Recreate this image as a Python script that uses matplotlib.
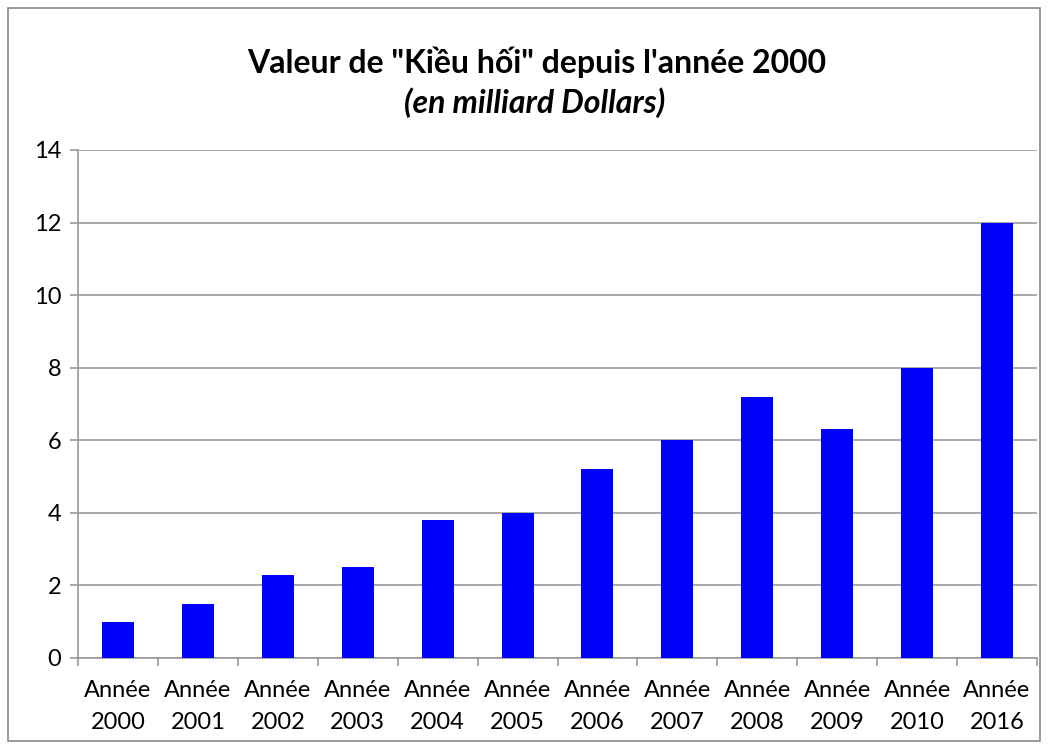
import matplotlib.pyplot as plt
import numpy as np
from matplotlib.patches import Rectangle

plt.rcParams['font.family'] = ['Lato', 'DejaVu Sans']

years = ['2000', '2001', '2002', '2003', '2004', '2005', '2006',
         '2007', '2008', '2009', '2010', '2016']
values = [1.0, 1.5, 2.3, 2.5, 3.8, 4.0, 5.2, 6.0, 7.2, 6.3, 8.0, 12.0]
labels = ['Année\n' + y for y in years]

fig = plt.figure(figsize=(10.49, 7.49), dpi=100)
ax = fig.add_axes([78 / 1049, 1 - 658 / 749, (1037 - 78) / 1049, (658 - 150) / 749])

x = np.arange(len(values))
ax.bar(x, values, width=0.4, color='#0000ff', zorder=3)

ax.set_xlim(-0.5, len(values) - 0.5)
ax.set_ylim(0, 14)
ax.set_yticks(range(0, 15, 2))
ax.yaxis.grid(True, color='#999999', linewidth=1.2, zorder=0)

# category ticks between bars
ax.set_xticks(np.arange(-0.5, len(values), 1.0))
ax.set_xticklabels([])
ax.set_xticks(x, minor=True)
ax.set_xticklabels(labels, minor=True, fontsize=17, linespacing=1.65)
ax.tick_params(axis='x', which='minor', length=0, pad=16)
ax.tick_params(axis='x', which='major', length=6, color='#999999', width=1.2)
ax.tick_params(axis='y', length=6, color='#999999', width=1.2, labelsize=17, pad=6)

for s in ['top', 'right']:
    ax.spines[s].set_visible(False)
for s in ['left', 'bottom']:
    ax.spines[s].set_color('#999999')
    ax.spines[s].set_linewidth(1.2)

fig.text(537 / 1049, 1 - 62 / 749, 'Valeur de "Kiều hối" depuis l\'année 2000',
         ha='center', va='center', fontsize=23, fontweight='bold')
fig.text(535 / 1049, 1 - 103 / 749, '(en milliard Dollars)',
         ha='center', va='center', fontsize=23, fontweight='bold', style='italic')

fig.patches.append(Rectangle((8 / 1049, 8 / 749), 1032 / 1049, 733 / 749,
                             transform=fig.transFigure, fill=False,
                             edgecolor='#888888', linewidth=1.2))

fig.savefig('out.png', dpi=100)
